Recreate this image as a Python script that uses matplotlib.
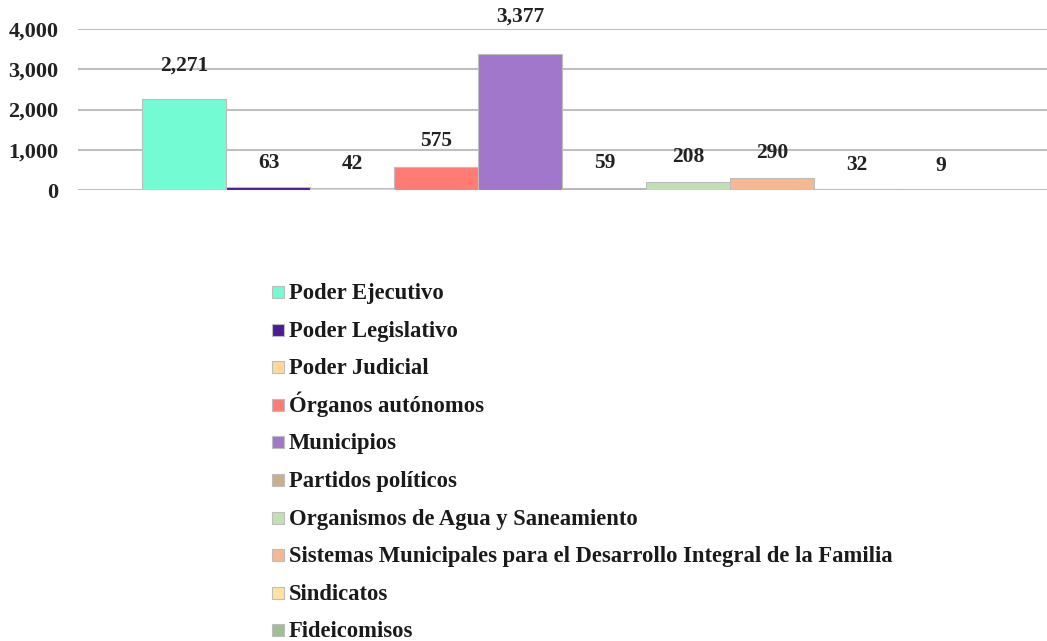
import numpy as np
import matplotlib.pyplot as plt
from matplotlib.patches import Rectangle

plt.rcParams['font.family'] = ['Liberation Serif', 'DejaVu Serif']
plt.rcParams['font.weight'] = 'bold'

# Number of entities per type
categories = [
    'Poder Ejecutivo',
    'Poder Legislativo',
    'Poder Judicial',
    'Órganos autónomos',
    'Municipios',
    'Partidos políticos',
    'Organismos de Agua y Saneamiento',
    'Sistemas Municipales para el Desarrollo Integral de la Familia',
    'Sindicatos',
    'Fideicomisos',
]
values = [2271, 63, 42, 575, 3377, 59, 208, 290, 32, 9]
colors = ['#73fbd3', '#4b1a96', '#ffd99c', '#ff7b73', '#a077cb',
          '#c8b08c', '#c1e0b4', '#f5b891', '#ffe3a0', '#a0bd94']
yticks = [0, 1000, 2000, 3000, 4000]

W, H = 1047, 641
fig = plt.figure(figsize=(W / 100, H / 100), dpi=100)
ax = fig.add_axes([78 / W, 1 - 190 / H, 969 / W, 161 / H])

n = len(values)
group_width = 840 / 969
bar_w = group_width / n
x = -group_width / 2 + bar_w * (np.arange(n) + 0.5)

ax.bar(x - 0.001, values, width=bar_w, color=colors, edgecolor='#bdbdbd',
       linewidth=0.8, zorder=3)

# value labels above each bar
for xi, v in zip(x, values):
    ax.annotate(f'{v:,}', (xi, v), xytext=(0, (24 + 0.004 * v) * 0.72),
                textcoords='offset points', ha='center', va='center',
                fontsize=15.5, fontweight='bold', color='#222222',
                annotation_clip=False)

ax.set_xlim(-0.5, 0.5)
ax.set_ylim(0, 4000)
ax.set_yticks(yticks)
ax.set_yticklabels([f'{t:,}' for t in yticks], fontsize=16, fontweight='bold',
                   color='#222222')
ax.set_xticks([])
ax.tick_params(axis='y', length=0, pad=14)
ax.grid(axis='y', color='#bfbfbf', linewidth=1.5, zorder=0)
for s in ax.spines.values():
    s.set_visible(False)

# legend: one row per category, square swatch + label
row0, step, sq = 292, 37.6, 12
for i, (lab, c) in enumerate(zip(categories, colors)):
    yc = row0 + i * step
    fig.add_artist(Rectangle((272 / W, 1 - (yc + sq / 2) / H), sq / W, sq / H,
                             transform=fig.transFigure, facecolor=c,
                             edgecolor='#bdbdbd', linewidth=0.8))
    fig.text(289 / W, 1 - (yc + 7) / H, lab, fontsize=16.3, fontweight='bold',
             color='#1a1a1a', ha='left', va='baseline')

fig.savefig('out.png', dpi=100, facecolor='white')
